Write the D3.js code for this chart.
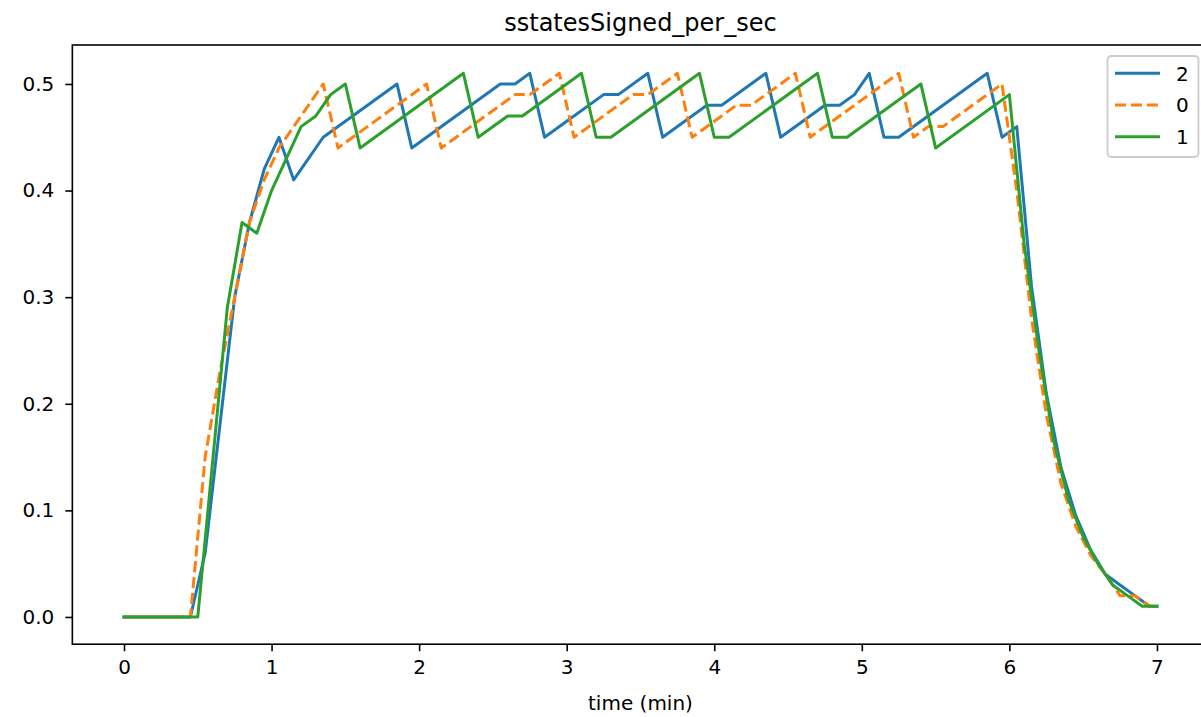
<!DOCTYPE html>
<html>
<head>
<meta charset="utf-8">
<script src="https://cdn.jsdelivr.net/npm/d3@7"></script>
<style>
  html, body { margin: 0; padding: 0; background: #ffffff; }
  svg { display: block; }
  text { font-family: "DejaVu Sans", sans-serif; fill: #000; }
</style>
</head>
<body>
<svg id="chart" width="1201" height="717"></svg>
<script>
// ---- data (time in minutes, value per second) ----
const seriesNames = ["2", "0", "1"];
const seriesColors = ["#1f77b4", "#ff7f0e", "#2ca02c"];
const seriesDashed = [false, true, false];

const t2 = [0, 0.45, 0.55, 0.65, 0.75, 0.85, 0.95, 1.05, 1.15, 1.35, 1.85, 1.95, 2.55, 2.65, 2.75, 2.85,
            3.25, 3.35, 3.55, 3.65, 3.95, 4.05, 4.35, 4.45, 4.75, 4.85, 4.95, 5.05, 5.15, 5.25, 5.85, 5.95,
            6.05, 6.15, 6.25, 6.35, 6.45, 6.55, 6.65, 6.75, 6.85, 6.95, 7.0];
const v2 = [0, 0, 0.06, 0.18, 0.30, 0.37, 0.42, 0.45, 0.41, 0.45, 0.50, 0.44, 0.50, 0.50, 0.51, 0.45,
            0.49, 0.49, 0.51, 0.45, 0.48, 0.48, 0.51, 0.45, 0.48, 0.48, 0.49, 0.51, 0.45, 0.45, 0.51, 0.45,
            0.46, 0.31, 0.21, 0.14, 0.095, 0.063, 0.04, 0.03, 0.02, 0.01, 0.01];

const t0 = [0, 0.45, 0.55, 0.65, 0.75, 0.85, 0.95, 1.05, 1.15, 1.25, 1.35, 1.45, 2.05, 2.15, 2.65, 2.75,
            2.95, 3.05, 3.45, 3.55, 3.75, 3.85, 4.15, 4.25, 4.55, 4.65, 5.25, 5.35, 5.45, 5.55, 5.95,
            6.05, 6.15, 6.25, 6.35, 6.45, 6.55, 6.65, 6.75, 6.85, 6.95, 7.0];
const v0 = [0, 0, 0.15, 0.23, 0.30, 0.37, 0.41, 0.44, 0.46, 0.48, 0.50, 0.44, 0.50, 0.44, 0.49, 0.49,
            0.51, 0.45, 0.49, 0.49, 0.51, 0.45, 0.48, 0.48, 0.51, 0.45, 0.51, 0.45, 0.46, 0.46, 0.50,
            0.40, 0.28, 0.19, 0.125, 0.085, 0.058, 0.04, 0.02, 0.02, 0.01, 0.01];

const t1 = [0, 0.5, 0.7, 0.8, 0.9, 1.0, 1.2, 1.3, 1.4, 1.5, 1.6, 2.3, 2.4, 2.6, 2.7, 3.1, 3.2, 3.3,
            3.9, 4.0, 4.1, 4.7, 4.8, 4.9, 5.4, 5.5, 6.0, 6.1, 6.2, 6.3, 6.4, 6.5, 6.6, 6.7, 6.8, 6.9, 7.0];
const v1 = [0, 0, 0.29, 0.37, 0.36, 0.40, 0.46, 0.47, 0.49, 0.50, 0.44, 0.51, 0.45, 0.47, 0.47, 0.51, 0.45, 0.45,
            0.51, 0.45, 0.45, 0.51, 0.45, 0.45, 0.50, 0.44, 0.49, 0.35, 0.25, 0.165, 0.11, 0.075, 0.05, 0.03, 0.02, 0.01, 0.01];

const xTicks = [0, 1, 2, 3, 4, 5, 6, 7];
const yTicks = [0.0, 0.1, 0.2, 0.3, 0.4, 0.5];
const titleText = "sstatesSigned_per_sec";
const xLabelText = "time (min)";

const seriesTimes = [t2, t0, t1];
const seriesValues = [v2, v0, v1];

// ---- layout ----
const svg = d3.select("#chart");
const plotLeft = 72.35, plotRight = 1208.6, plotTop = 45, plotBottom = 644.2;

const x = d3.scaleLinear().domain([-0.35, 7.35]).range([plotLeft, plotRight]);
const y = d3.scaleLinear().domain([-0.02555, 0.53655]).range([plotBottom, plotTop]);

// lines
const line = d3.line().x(d => x(d[0])).y(d => y(d[1]));
const plot = svg.append("g");
seriesNames.forEach((name, i) => {
  const pts = seriesTimes[i].map((t, j) => [t, seriesValues[i][j]]);
  plot.append("path")
    .datum(pts)
    .attr("fill", "none")
    .attr("stroke", seriesColors[i])
    .attr("stroke-width", 3)
    .attr("stroke-linejoin", "round")
    .attr("stroke-linecap", seriesDashed[i] ? "butt" : "square")
    .attr("stroke-dasharray", seriesDashed[i] ? "11.1,4.8" : null)
    .attr("d", line);
});

// axes
const xAxis = d3.axisBottom(x).tickValues(xTicks).tickFormat(d3.format("d")).tickSize(7).tickPadding(9);
const yAxis = d3.axisLeft(y).tickValues(yTicks).tickFormat(d3.format(".1f")).tickSize(7).tickPadding(11);

const gx = svg.append("g").attr("transform", `translate(0,${plotBottom})`).call(xAxis);
const gy = svg.append("g").attr("transform", `translate(${plotLeft},0)`).call(yAxis);
[gx, gy].forEach(g => {
  g.select(".domain").remove();
  g.selectAll(".tick line").attr("stroke", "#000").attr("stroke-width", 1.6);
  g.selectAll(".tick text").attr("font-size", 20).attr("font-family", "DejaVu Sans").attr("fill", "#000");
});

// spines
svg.append("rect")
  .attr("x", plotLeft).attr("y", plotTop)
  .attr("width", plotRight - plotLeft).attr("height", plotBottom - plotTop)
  .attr("fill", "none").attr("stroke", "#000").attr("stroke-width", 1.6);

// title and axis label
svg.append("text")
  .attr("x", (plotLeft + plotRight) / 2).attr("y", 31)
  .attr("text-anchor", "middle").attr("font-size", 24)
  .text(titleText);

svg.append("text")
  .attr("x", (plotLeft + plotRight) / 2).attr("y", 710)
  .attr("text-anchor", "middle").attr("font-size", 20)
  .text(xLabelText);

// legend
const lg = svg.append("g");
lg.append("rect")
  .attr("x", 1107.5).attr("y", 56).attr("width", 91).attr("height", 101)
  .attr("rx", 4).attr("ry", 4)
  .attr("fill", "#ffffff").attr("fill-opacity", 0.8)
  .attr("stroke", "#cccccc").attr("stroke-width", 1.8);
seriesNames.forEach((name, i) => {
  const yy = 73.3 + i * 31.7;
  lg.append("line")
    .attr("x1", 1115).attr("x2", 1160).attr("y1", yy).attr("y2", yy)
    .attr("stroke", seriesColors[i]).attr("stroke-width", 3)
    .attr("stroke-dasharray", seriesDashed[i] ? "11.1,4.8" : null);
  lg.append("text")
    .attr("x", 1176).attr("y", yy).attr("dy", "0.36em")
    .attr("font-size", 20)
    .text(name);
});
</script>
</body>
</html>
